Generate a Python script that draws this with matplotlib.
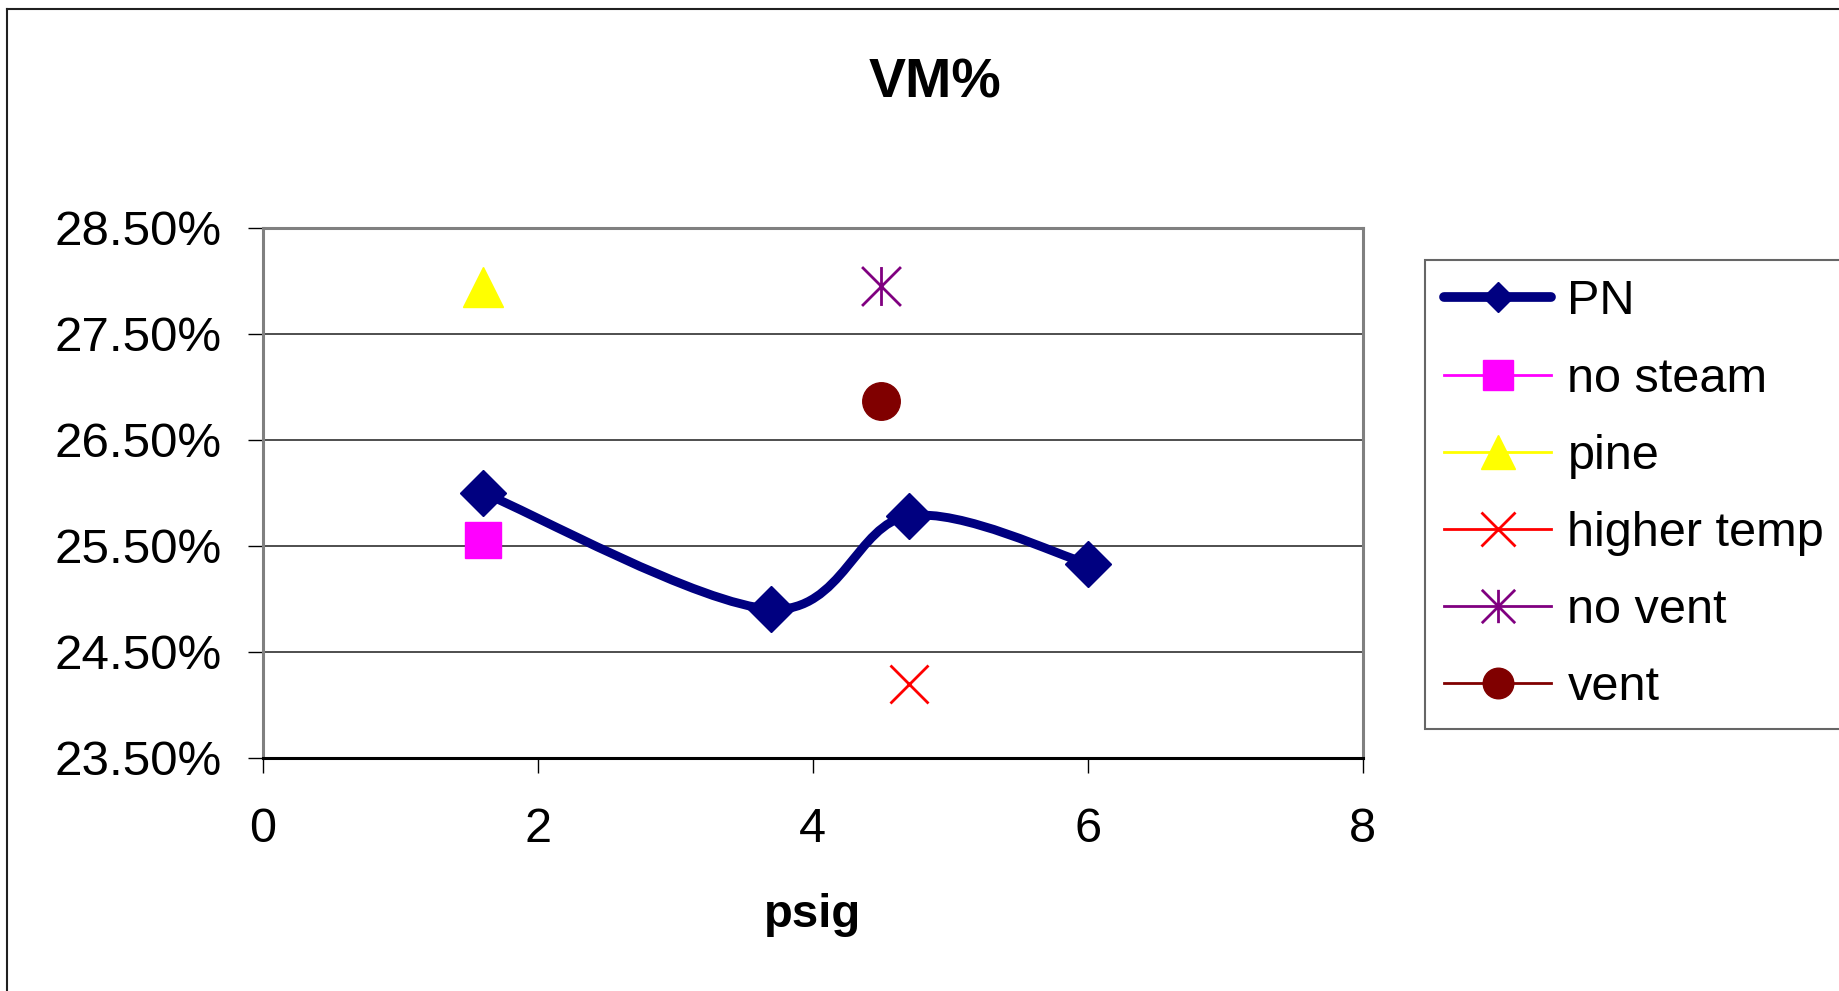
import numpy as np
import matplotlib
matplotlib.use("Agg")
import matplotlib.pyplot as plt
from matplotlib.path import Path
from matplotlib.patches import PathPatch
from matplotlib.lines import Line2D
from matplotlib.ticker import PercentFormatter

plt.rcParams['font.family'] = ['Liberation Sans', 'DejaVu Sans']

# PN series (psig, VM %)
pn_x = [1.6, 3.7, 4.7, 6.0]
pn_y = [26.00, 24.90, 25.78, 25.33]

# single-point runs
no_steam_x, no_steam_y = [1.6], [25.55]
pine_x, pine_y = [1.6], [27.94]
higher_temp_x, higher_temp_y = [4.7], [24.19]
no_vent_x, no_vent_y = [4.5], [27.95]
vent_x, vent_y = [4.5], [26.86]

x_ticks = [0, 2, 4, 6, 8]
y_ticks = [23.5, 24.5, 25.5, 26.5, 27.5, 28.5]

W, H = 1839, 991
fig = plt.figure(figsize=(W / 100, H / 100), dpi=100)
ax = fig.add_axes([262.7 / W, 1 - 757.6 / H, 1100.0 / W, 530.1 / H])


def smooth_path(xs, ys):
    # excel-style smoothed line: bezier segments through the points
    pts = np.column_stack([xs, ys]).astype(float)
    ext = np.vstack([pts[0], pts, pts[-1]])
    verts = [tuple(pts[0])]
    codes = [Path.MOVETO]
    for i in range(1, len(ext) - 2):
        p0, p1, p2, p3 = ext[i - 1], ext[i], ext[i + 1], ext[i + 2]
        c1 = p1 + (p2 - p0) / 6.0
        c2 = p2 - (p3 - p1) / 6.0
        verts += [tuple(c1), tuple(c2), tuple(p2)]
        codes += [Path.CURVE4] * 3
    return Path(verts, codes)


navy = '#000080'
ax.add_patch(PathPatch(smooth_path(pn_x, pn_y), fill=False, edgecolor=navy,
                       lw=6.4, capstyle='round', joinstyle='round', zorder=3))
ax.plot(pn_x, pn_y, ls='none', marker='D', ms=23, color=navy, zorder=4)

asterisk = Path([(0, -1), (0, 1), (-1, -1), (1, 1), (-1, 1), (1, -1)],
                [Path.MOVETO, Path.LINETO] * 3)

ax.plot(no_steam_x, no_steam_y, ls='none', marker='s', ms=26, color='#FF00FF', zorder=4)
ax.plot(pine_x, pine_y, ls='none', marker='^', ms=29, color='#FFFF00', zorder=4)
ax.plot(higher_temp_x, higher_temp_y, ls='none', marker='x', ms=28, mew=2,
        color='#FF0000', zorder=4)
ax.plot(no_vent_x, no_vent_y, ls='none', marker=asterisk, ms=28, mew=2,
        mfc='none', color='#800080', zorder=4)
ax.plot(vent_x, vent_y, ls='none', marker='o', ms=27, color='#800000', zorder=4)

ax.set_xlim(0, 8)
ax.set_ylim(23.5, 28.5)
ax.set_xticks(x_ticks)
ax.set_yticks(y_ticks)
ax.yaxis.set_major_formatter(PercentFormatter(xmax=100, decimals=2))
ax.grid(axis='y', color='#303030', lw=1.2)
ax.set_axisbelow(True)
for side in ['top', 'left', 'right']:
    ax.spines[side].set_color('#808080')
    ax.spines[side].set_linewidth(2.2)
ax.spines['bottom'].set_color('#000000')
ax.spines['bottom'].set_linewidth(2.2)
ax.tick_params(axis='x', direction='out', length=10.5, width=1, labelsize=35, pad=25)
ax.tick_params(axis='y', direction='out', length=10.5, width=1, labelsize=35.5, pad=19)

fig.text(935 / W, 1 - 97 / H, 'VM%', fontsize=40, fontweight='bold',
         ha='center', va='baseline')
fig.text(813 / W, 1 - 927 / H, 'psig', fontsize=34, fontweight='bold',
         ha='center', va='baseline')

handles = [
    Line2D([], [], color=navy, lw=7, marker='D', ms=15, solid_capstyle='round'),
    Line2D([], [], color='#FF00FF', lw=2, marker='s', ms=21),
    Line2D([], [], color='#FFFF00', lw=2, marker='^', ms=24),
    Line2D([], [], color='#FF0000', lw=2, marker='x', ms=24, mew=2),
    Line2D([], [], color='#800080', lw=2, marker=asterisk, ms=24, mew=2, mfc='none'),
    Line2D([], [], color='#800000', lw=2, marker='o', ms=22),
]
labels = ['PN', 'no steam', 'pine', 'higher temp', 'no vent', 'vent']
leg = fig.legend(handles, labels, loc='upper left',
                 bbox_to_anchor=(1425 / W, 1 - 260 / H), fontsize=35,
                 frameon=True, fancybox=False, handlelength=2.2,
                 handletextpad=0.33, labelspacing=0.66, borderpad=0.4,
                 borderaxespad=0)
leg.get_frame().set_edgecolor('#404040')
leg.get_frame().set_linewidth(1.5)

# outer chart frame
fig.add_artist(Line2D([7.5 / W, 7.5 / W], [0, 1 - 8.5 / H], transform=fig.transFigure,
                      color='#202020', lw=1.5))
fig.add_artist(Line2D([7.5 / W, 1], [1 - 8.5 / H, 1 - 8.5 / H], transform=fig.transFigure,
                      color='#202020', lw=1.5))

fig.savefig('out.png', dpi=100)
